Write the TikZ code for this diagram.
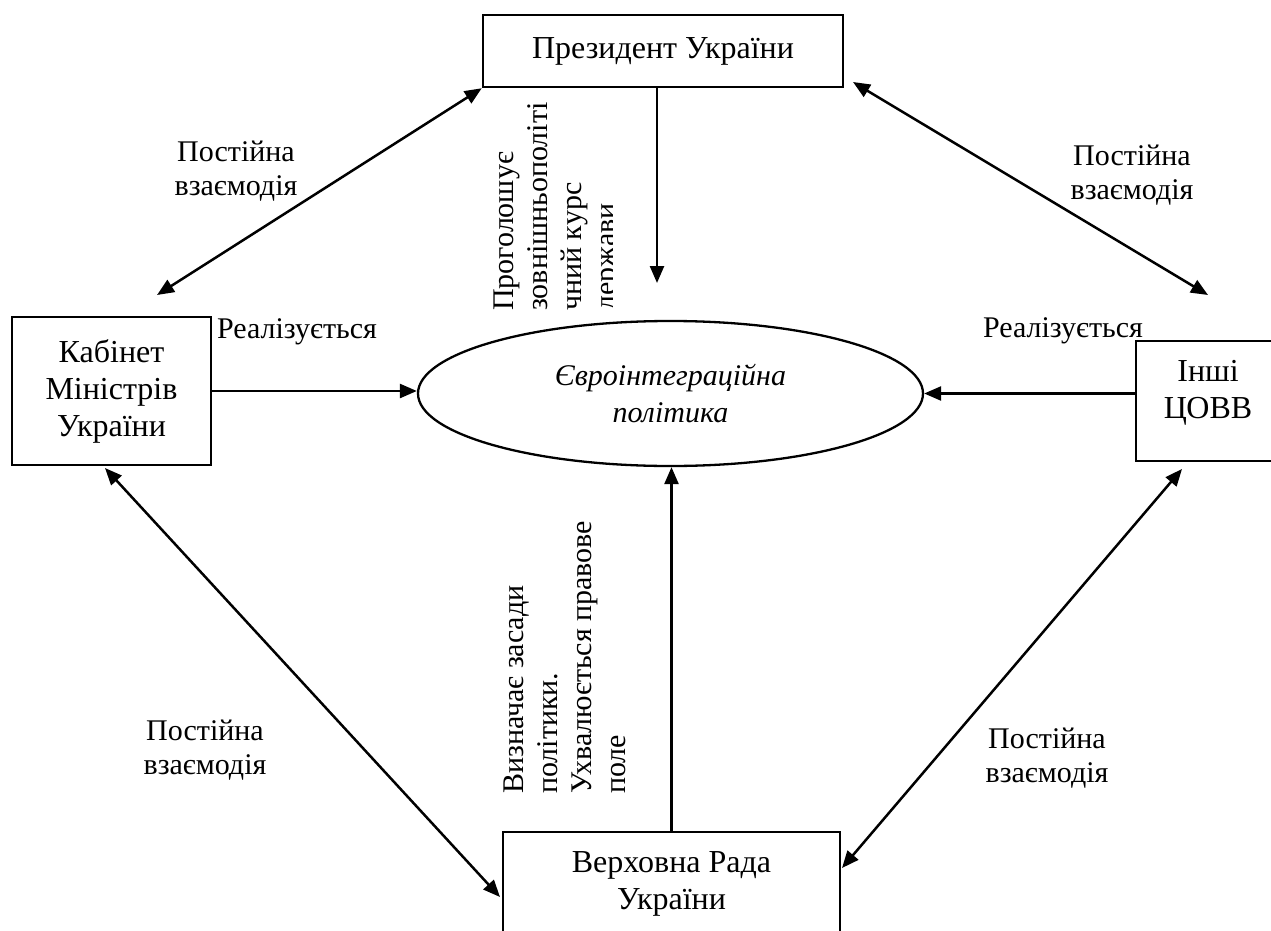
\documentclass[tikz,border=0pt]{standalone}
\usepackage{fontspec}
\setmainfont{Liberation Serif}
\usetikzlibrary{arrows.meta,shapes.geometric,calc}
\begin{document}
\begin{tikzpicture}[x=1pt,y=-1pt,
  tipA/.tip={Triangle[length=17pt,width=14pt]},
  conn/.style={line width=2.5pt, tipA-tipA},
  arr/.style={line width=2.5pt, -tipA},
  box/.style={draw, line width=2.5pt, align=center, inner sep=0pt, font=\fontsize{32}{37}\selectfont},
  lbl/.style={align=center, inner sep=0pt, anchor=north, font=\fontsize{30}{34}\selectfont},
  vtxt/.style={rotate=90, anchor=north west, align=left, inner sep=0pt, font=\fontsize{30}{34}\selectfont}]
\useasboundingbox (0,0) rectangle (1271,931);
\clip (0,0) rectangle (1271,931);

% boxes
\node[box, minimum width=360pt, minimum height=72pt] (pres) at (663,51) {Президент України};
\node[box, minimum width=199pt, minimum height=148pt] (cab) at (111.5,391) {Кабінет\\Міністрів\\України};
\node[box, minimum width=144pt, minimum height=120pt] (covv) at (1208,401) {};
\node[align=center, inner sep=0pt, font=\fontsize{32}{37}\selectfont] (covvt) at (1208,393) {Інші\\ЦОВВ};
\node[box, minimum width=337pt, minimum height=104pt] (rada) at (671.5,884) {Верховна Рада\\України};
\node[draw, ellipse, line width=2.3pt, minimum width=505pt, minimum height=145pt, inner sep=0pt,
      align=center, font=\fontsize{30}{37}\selectfont\itshape] (ell) at (670.5,393.5) {Євроінтеграційна\\політика};

% straight arrows
\coordinate (pt) at (657,283);
\draw[arr] (pres.south -| pt) -- (pt);
\draw[arr] (cab.east) -- (cab.east -| ell.west);
\draw[arr] (covv.west |- ell.east) -- (ell.east);
\draw[arr] (rada.north) -- (rada.north |- ell.south);

% diagonal two-way arrows
\coordinate (tl) at (157,295);
\coordinate (tr1) at (853,82);
\coordinate (tr2) at (1208,295);
\coordinate (bl1) at (105,468);
\coordinate (bl2) at (500,897);
\coordinate (br1) at (1182,469);
\coordinate (br2) at (842,868);
\draw[conn] (pres.south west) -- (tl);
\draw[conn] (tr1) -- (tr2);
\draw[conn] (bl1) -- (bl2);
\draw[conn] (br1) -- (br2);

% labels
\node[lbl] (l1) at (236,141) {Постійна\\взаємодія};
\node[lbl] (l2) at (1132,145) {Постійна\\взаємодія};
\node[lbl] (l3) at (205,720) {Постійна\\взаємодія};
\node[lbl] (l4) at (1047,728) {Постійна\\взаємодія};
\node[lbl] (r1) at (297,318) {Реалізується};
\node[lbl] (r2) at (1063,317) {Реалізується};

% vertical texts
\begin{scope}
\clip (480,95) rectangle (612,320);
\node[vtxt] (v1) at (494,311) {Проголошує\\зовнішньополіті\\чний курс\\держави};
\end{scope}
\node[vtxt] (v2) at (504,794) {Визначає засади\\політики.\\Ухвалюється правове\\поле};
\end{tikzpicture}
\end{document}
